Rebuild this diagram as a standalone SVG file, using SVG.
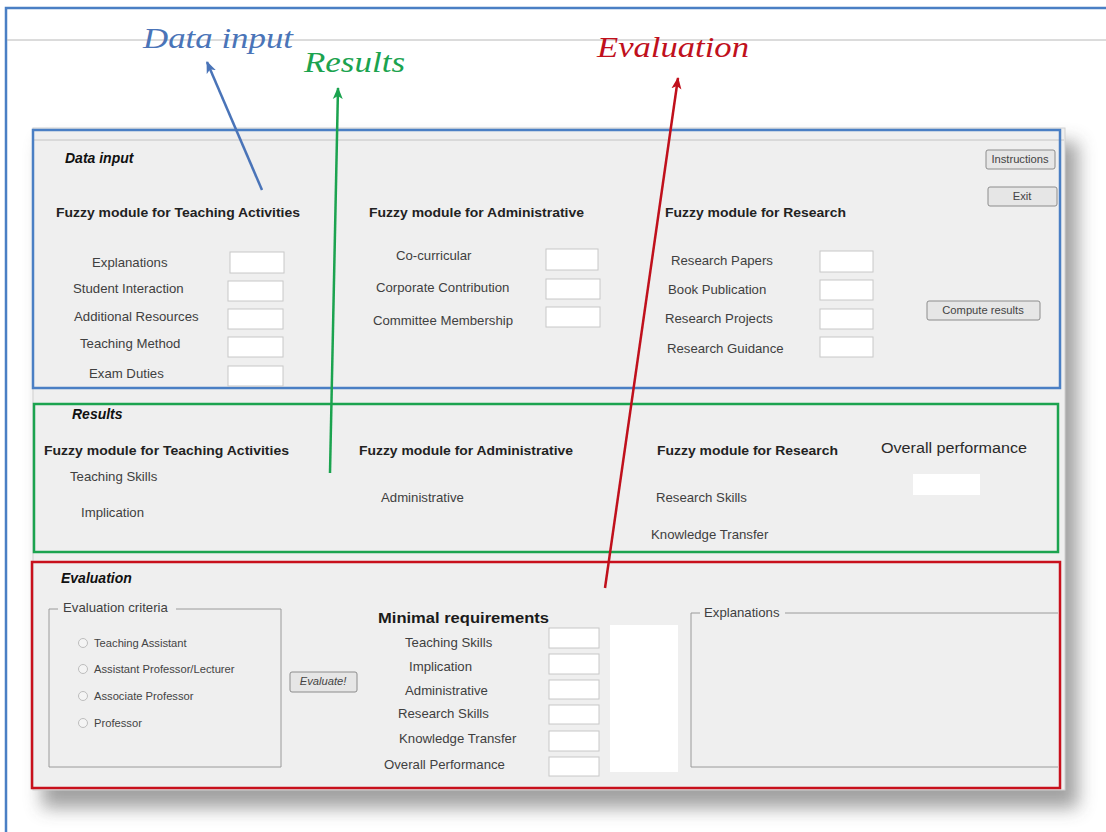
<svg xmlns="http://www.w3.org/2000/svg" width="1106" height="832" viewBox="0 0 1106 832">
<defs>
<style>
.ann{font-family:"Liberation Serif",serif;font-style:italic;font-size:30px}
.gui{font-family:"Liberation Sans",Arial,sans-serif;fill:#404040;font-size:13.2px}
.bh{font-family:"Liberation Sans",Arial,sans-serif;fill:#222;font-size:13px;font-weight:bold}
.bi{font-family:"Liberation Sans",Arial,sans-serif;fill:#111;font-size:14px;font-weight:bold;font-style:italic}
.sm{font-family:"Liberation Sans",Arial,sans-serif;fill:#444;font-size:11.2px}
.box{fill:#fff;stroke:#c8c8c8;stroke-width:1}
.btn{fill:#e6e6e6;stroke:#8c8c8c;stroke-width:1}
.grp{fill:none;stroke:#9a9a9a;stroke-width:1}
.radio{fill:#f4f4f4;stroke:#bdbdbd;stroke-width:1}
</style>
<filter id="sh" x="-10%" y="-10%" width="120%" height="130%">
<feGaussianBlur stdDeviation="9"/>
</filter>
<marker id="ab" viewBox="0 0 12 12" refX="11" refY="6" markerWidth="12" markerHeight="12" markerUnits="userSpaceOnUse" orient="auto"><path d="M0,1 L12,6 L0,11 L3,6 Z" fill="#4a74b8"/></marker>
<marker id="ag" viewBox="0 0 12 12" refX="11" refY="6" markerWidth="12" markerHeight="12" markerUnits="userSpaceOnUse" orient="auto"><path d="M0,1 L12,6 L0,11 L3,6 Z" fill="#1ba34f"/></marker>
<marker id="ar" viewBox="0 0 12 12" refX="11" refY="6" markerWidth="12" markerHeight="12" markerUnits="userSpaceOnUse" orient="auto"><path d="M0,1 L12,6 L0,11 L3,6 Z" fill="#c0101c"/></marker>
</defs>
<rect width="1106" height="832" fill="#fff"/>
<g id="page-frame">
<path d="M6,832 V8 H1106" fill="none" stroke="#4a7fc4" stroke-width="2.5"/>
<line x1="7" y1="40" x2="1106" y2="40" stroke="#b8b8b8" stroke-width="1"/>
</g>
<g id="window">
<rect x="42" y="142" width="1036" height="666" fill="#444" opacity="0.5" filter="url(#sh)"/>
<rect x="33" y="128" width="1032" height="662" fill="#efefef" stroke="#cfcfcf"/>
<line x1="34" y1="140" x2="1064" y2="140" stroke="#c4c4c4"/>
</g>
<g id="annotation-labels">
<text class="ann" x="143" y="48" fill="#4a74b8" textLength="150" lengthAdjust="spacingAndGlyphs">Data input</text>
<text class="ann" x="304" y="72" fill="#1ba34f" textLength="101" lengthAdjust="spacingAndGlyphs">Results</text>
<text class="ann" x="597" y="57" fill="#c0101c" textLength="152" lengthAdjust="spacingAndGlyphs">Evaluation</text>
</g>
<g id="data-input">
<rect x="33" y="130" width="1027" height="258" fill="none" stroke="#4a7fc4" stroke-width="2.5"/>
<text class="bi" x="65" y="163">Data input</text>
<text class="bh" x="56" y="217" textLength="244" lengthAdjust="spacingAndGlyphs">Fuzzy module for Teaching Activities</text>
<text class="bh" x="369" y="217" textLength="215" lengthAdjust="spacingAndGlyphs">Fuzzy module for Administrative</text>
<text class="bh" x="665" y="217" textLength="181" lengthAdjust="spacingAndGlyphs">Fuzzy module for Research</text>
<text class="gui" x="92" y="267">Explanations</text>
<text class="gui" x="73" y="293">Student Interaction</text>
<text class="gui" x="74" y="321">Additional Resources</text>
<text class="gui" x="80" y="348">Teaching Method</text>
<text class="gui" x="89" y="378">Exam Duties</text>
<rect class="box" x="230" y="252" width="54" height="21"/>
<rect class="box" x="228" y="281" width="55" height="20"/>
<rect class="box" x="228" y="309" width="55" height="20"/>
<rect class="box" x="228" y="337" width="55" height="20"/>
<rect class="box" x="228" y="366" width="55" height="20"/>
<text class="gui" x="396" y="260">Co-curricular</text>
<text class="gui" x="376" y="292">Corporate Contribution</text>
<text class="gui" x="373" y="325">Committee Membership</text>
<rect class="box" x="546" y="249" width="52" height="21"/>
<rect class="box" x="546" y="279" width="54" height="20"/>
<rect class="box" x="546" y="307" width="54" height="20"/>
<text class="gui" x="671" y="265">Research Papers</text>
<text class="gui" x="668" y="294">Book Publication</text>
<text class="gui" x="665" y="323">Research Projects</text>
<text class="gui" x="667" y="353">Research Guidance</text>
<rect class="box" x="820" y="251" width="53" height="21"/>
<rect class="box" x="820" y="280" width="53" height="20"/>
<rect class="box" x="820" y="309" width="53" height="20"/>
<rect class="box" x="820" y="337" width="53" height="20"/>
<rect class="btn" x="986" y="150" width="69" height="19" rx="2"/>
<text class="sm" x="1020" y="163" text-anchor="middle" font-size="9.5">Instructions</text>
<rect class="btn" x="988" y="187" width="69" height="19" rx="2"/>
<text class="sm" x="1022" y="200" text-anchor="middle" font-size="10.5">Exit</text>
<rect class="btn" x="927" y="301" width="113" height="19" rx="2"/>
<text class="sm" x="983" y="314" text-anchor="middle" font-size="10.5">Compute results</text>
</g>
<g id="results">
<rect x="34" y="404" width="1024" height="148" fill="none" stroke="#1ba34f" stroke-width="2.5"/>
<text class="bi" x="72" y="419">Results</text>
<text class="bh" x="44" y="455" textLength="245" lengthAdjust="spacingAndGlyphs">Fuzzy module for Teaching Activities</text>
<text class="gui" x="70" y="481">Teaching Skills</text>
<text class="gui" x="81" y="517">Implication</text>
<text class="bh" x="359" y="455" textLength="214" lengthAdjust="spacingAndGlyphs">Fuzzy module for Administrative</text>
<text class="gui" x="381" y="502">Administrative</text>
<text class="bh" x="657" y="455" textLength="181" lengthAdjust="spacingAndGlyphs">Fuzzy module for Research</text>
<text class="gui" x="656" y="502">Research Skills</text>
<text class="gui" x="651" y="539">Knowledge Transfer</text>
<text x="881" y="453" font-family="Liberation Sans,Arial,sans-serif" font-size="15.5" fill="#2a2a2a" textLength="146" lengthAdjust="spacingAndGlyphs">Overall performance</text>
<rect x="913" y="474" width="67" height="21" fill="#fff"/>
</g>
<g id="evaluation">
<rect x="32" y="562" width="1028" height="226" fill="none" stroke="#c8101c" stroke-width="2.5"/>
<text class="bi" x="61" y="583">Evaluation</text>
<path class="grp" d="M58,609 H49 V767 H281 V609 H176"/>
<text class="gui" x="63" y="612" font-size="12.5">Evaluation criteria</text>
<circle class="radio" cx="83" cy="643" r="4.5"/>
<circle class="radio" cx="83" cy="669" r="4.5"/>
<circle class="radio" cx="83" cy="696" r="4.5"/>
<circle class="radio" cx="83" cy="723" r="4.5"/>
<text class="sm" x="94" y="647">Teaching Assistant</text>
<text class="sm" x="94" y="673">Assistant Professor/Lecturer</text>
<text class="sm" x="94" y="700">Associate Professor</text>
<text class="sm" x="94" y="727">Professor</text>
<rect class="btn" x="290" y="672" width="67" height="20" rx="2"/>
<text class="sm" x="323" y="685" text-anchor="middle" font-style="italic" font-size="9.5">Evaluate!</text>
<text x="378" y="623" font-family="Liberation Sans,Arial,sans-serif" font-size="15" font-weight="bold" fill="#1a1a1a" textLength="171" lengthAdjust="spacingAndGlyphs">Minimal requirements</text>
<text class="gui" x="405" y="647">Teaching Skills</text>
<text class="gui" x="409" y="671">Implication</text>
<text class="gui" x="405" y="695">Administrative</text>
<text class="gui" x="398" y="718">Research Skills</text>
<text class="gui" x="399" y="743">Knowledge Transfer</text>
<text class="gui" x="384" y="769">Overall Performance</text>
<rect class="box" x="549" y="628" width="50" height="20"/>
<rect class="box" x="549" y="654" width="50" height="20"/>
<rect class="box" x="549" y="680" width="50" height="19"/>
<rect class="box" x="549" y="705" width="50" height="19"/>
<rect class="box" x="549" y="731" width="50" height="20"/>
<rect class="box" x="549" y="757" width="50" height="19"/>
<rect x="610" y="625" width="68" height="147" fill="#fff"/>
<path class="grp" d="M700,613 H691 V767 H1058 M1058,613 H785"/>
<text class="gui" x="704" y="617" font-size="12.5">Explanations</text>
</g>
<g id="connectors">
<line x1="262" y1="190" x2="207" y2="62" stroke="#4a74b8" stroke-width="2.5" marker-end="url(#ab)"/>
<line x1="330" y1="473" x2="338" y2="88" stroke="#1ba34f" stroke-width="2.5" marker-end="url(#ag)"/>
<line x1="605" y1="588" x2="678" y2="78" stroke="#c0101c" stroke-width="2.5" marker-end="url(#ar)"/>
</g>
</svg>
